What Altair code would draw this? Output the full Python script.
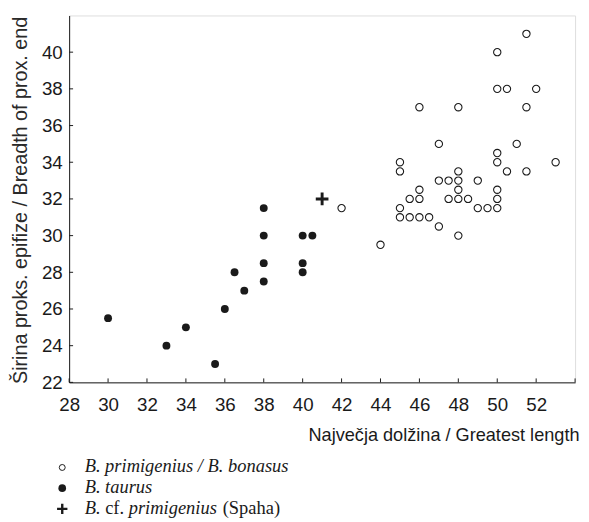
import altair as alt
import pandas as pd

# B. primigenius / B. bonasus (open circles)
open_x = [51.5, 50, 50, 50.5, 52, 46, 48, 51.5, 47, 51, 50, 50, 45, 45, 48, 50.5, 51.5, 53,
          47, 47.5, 48, 49, 46, 48, 50, 45.5, 46, 47.5, 48, 48.5, 50,
          45, 49, 49.5, 50, 42, 45, 45.5, 46, 46.5, 47, 48, 44]
open_y = [41, 40, 38, 38, 38, 37, 37, 37, 35, 35, 34.5, 34, 34, 33.5, 33.5, 33.5, 33.5, 34,
          33, 33, 33, 33, 32.5, 32.5, 32.5, 32, 32, 32, 32, 32, 32,
          31.5, 31.5, 31.5, 31.5, 31.5, 31, 31, 31, 31, 30.5, 30, 29.5]
# B. taurus (filled circles)
taurus_x = [30, 33, 34, 35.5, 36, 36.5, 37, 38, 38, 38, 38, 40, 40.5, 40, 40]
taurus_y = [25.5, 24, 25, 23, 26, 28, 27, 31.5, 30, 28.5, 27.5, 30, 30, 28.5, 28]
# B. cf. primigenius (Spaha)
spaha_x = [41]
spaha_y = [32]

x_ticks = [28, 30, 32, 34, 36, 38, 40, 42, 44, 46, 48, 50, 52]
y_ticks = [22, 24, 26, 28, 30, 32, 34, 36, 38, 40]
x_tick_marks = x_ticks + [54]

W, H = 513, 372
INK = "#1a1a1a"
SANS = "Liberation Sans"
SERIF = "Liberation Serif"
PLUS = "M-1,-0.23H1V0.23H-1Z M-0.23,-1H0.23V1H-0.23Z"

df_open = pd.DataFrame({"x": open_x, "y": open_y})
df_taurus = pd.DataFrame({"x": taurus_x, "y": taurus_y})
df_spaha = pd.DataFrame({"x": spaha_x, "y": spaha_y})

xs = alt.Scale(domain=[28, 54], nice=False, zero=False)
ys = alt.Scale(domain=[22, 42], nice=False, zero=False)

x_axis = alt.Axis(values=x_ticks, ticks=False, tickSize=0, grid=False,
                  labelFont=SANS, labelFontSize=19, labelColor=INK,
                  labelBaseline="alphabetic", labelPadding=29, labelFlush=False,
                  domainColor=INK, domainWidth=1,
                  title="Največja dolžina / Greatest length",
                  titleFont=SANS, titleFontSize=18.4, titleFontWeight="normal",
                  titleColor=INK, titleX=517, titleY=59, titleAlign="right",
                  titleBaseline="alphabetic")
y_axis = alt.Axis(values=y_ticks, ticks=False, tickSize=0, grid=False,
                  labelFont=SANS, labelFontSize=19, labelColor=INK,
                  labelPadding=7, labelFlush=False,
                  domainColor=INK, domainWidth=1,
                  title="Širina proks. epifize / Breadth of prox. end",
                  titleFont=SANS, titleFontSize=20, titleFontWeight="normal",
                  titleColor="#2a2a2a", titleX=-39, titleY=H / 2 + 1, titleAngle=270,
                  titleAlign="center", titleBaseline="bottom")

open_layer = alt.Chart(df_open).mark_point(
    shape="circle", filled=False, stroke=INK, strokeWidth=1.1, size=55, opacity=1
).encode(x=alt.X("x:Q", scale=xs, axis=x_axis), y=alt.Y("y:Q", scale=ys, axis=y_axis))

taurus_layer = alt.Chart(df_taurus).mark_circle(
    color=INK, size=64, opacity=1
).encode(x=alt.X("x:Q", scale=xs), y=alt.Y("y:Q", scale=ys))

spaha_layer = alt.Chart(df_spaha).mark_point(
    shape=PLUS, filled=True, color=INK, size=165, opacity=1, strokeWidth=0
).encode(x=alt.X("x:Q", scale=xs), y=alt.Y("y:Q", scale=ys))

xtick_layer = alt.Chart(pd.DataFrame({"v": x_tick_marks})).mark_rule(
    color=INK, strokeWidth=1
).encode(x=alt.X("v:Q", scale=xs), y=alt.value(H), y2=alt.value(H - 4))

ytick_layer = alt.Chart(pd.DataFrame({"v": y_ticks})).mark_rule(
    color=INK, strokeWidth=1
).encode(y=alt.Y("v:Q", scale=ys), x=alt.value(0), x2=alt.value(4))

# legend below the plot
leg_sym_x = -7
leg_txt_x = 15.7
row_base = [463.3, 484.3, 505.3]
sym_off = 5


def txt(s, x, y, italic):
    return alt.Chart(pd.DataFrame({"t": [s]})).mark_text(
        font=SERIF, fontSize=18.7, fontStyle="italic" if italic else "normal",
        align="left", baseline="alphabetic", color=INK
    ).encode(text="t:N", x=alt.value(x), y=alt.value(y))


leg = [
    alt.Chart(pd.DataFrame({"t": ["o"]})).mark_point(
        shape="circle", filled=False, stroke=INK, strokeWidth=1, size=36, opacity=1
    ).encode(x=alt.value(leg_sym_x), y=alt.value(row_base[0] - sym_off)),
    alt.Chart(pd.DataFrame({"t": ["f"]})).mark_circle(
        color=INK, size=60, opacity=1
    ).encode(x=alt.value(leg_sym_x), y=alt.value(row_base[1] - sym_off)),
    alt.Chart(pd.DataFrame({"t": ["p"]})).mark_point(
        shape=PLUS, filled=True, color=INK, size=110, opacity=1, strokeWidth=0
    ).encode(x=alt.value(leg_sym_x), y=alt.value(row_base[2] - sym_off)),
    txt("B. primigenius / B. bonasus", leg_txt_x, row_base[0], True),
    txt("B. taurus", leg_txt_x, row_base[1], True),
    txt("B.", leg_txt_x, row_base[2], True),
    txt("cf.", leg_txt_x + 20.8, row_base[2], False),
    txt("primigenius", leg_txt_x + 44.7, row_base[2], True),
    txt("(Spaha)", leg_txt_x + 140, row_base[2], False),
]

chart = alt.layer(
    open_layer, taurus_layer, spaha_layer, xtick_layer, ytick_layer, *leg
).properties(
    width=W, height=H,
    autosize=alt.AutoSizeParams(type="none"),
    padding={"left": 62, "top": 4, "right": 6, "bottom": 138},
).configure_view(
    stroke=INK, strokeWidth=1
).configure(background="white")

chart.save("out.html", embed_options={"renderer": "svg", "actions": False})
